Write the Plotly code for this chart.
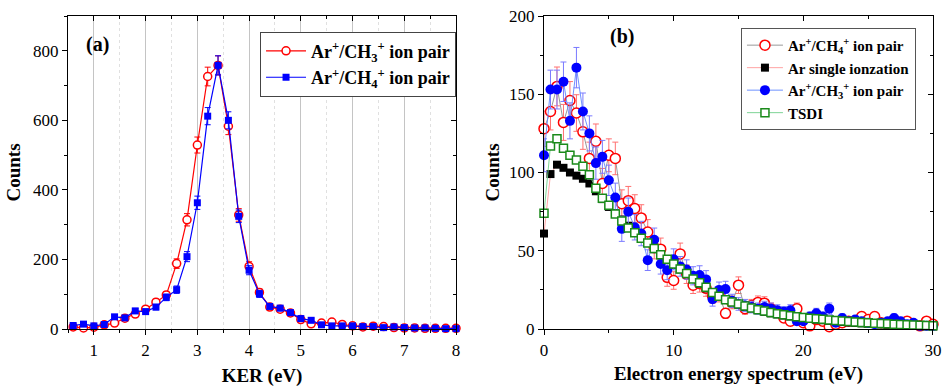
import plotly.graph_objects as go

# ---------------- Panel (a) data ----------------
ker = [0.6, 0.8, 1.0, 1.2, 1.4, 1.6, 1.8, 2.0, 2.2, 2.4, 2.6, 2.8, 3.0, 3.2, 3.4, 3.6, 3.8, 4.0, 4.2,
       4.4, 4.6, 4.8, 5.0, 5.2, 5.4, 5.6, 5.8, 6.0, 6.2, 6.4, 6.6, 6.8, 7.0, 7.2, 7.4, 7.6, 7.8, 8.0]
ch3_counts = [6, 3, 5, 12, 17, 31, 43, 57, 77, 98, 188, 314, 529, 726, 758, 583, 328, 180, 105,
              63, 57, 46, 27, 15, 17, 20, 13, 9, 6, 8, 7, 4, 3, 3, 2, 2, 2, 2]
ch3_err = [2.4, 1.7, 2.2, 3.5, 4.1, 5.6, 6.6, 7.5, 8.8, 9.9, 13.7, 17.7, 23.0, 26.9, 27.5, 24.1, 18.1, 13.4, 10.2,
           7.9, 7.5, 6.8, 5.2, 3.9, 4.1, 4.5, 3.6, 3.0, 2.4, 2.8, 2.6, 2.0, 1.7, 1.7, 1.4, 1.4, 1.4, 1.4]
ch4_counts = [10, 14, 9, 13, 35, 32, 52, 50, 63, 91, 113, 208, 363, 612, 758, 600, 324, 169, 101,
              65, 60, 47, 30, 25, 12, 9, 9, 9, 7, 7, 4, 6, 4, 3, 3, 2, 1, 1]
ch4_err = [3.2, 3.7, 3.0, 3.6, 5.9, 5.7, 7.2, 7.1, 7.9, 9.5, 10.6, 14.4, 19.1, 24.7, 27.5, 24.5, 18.0, 13.0, 10.0,
           8.1, 7.7, 6.9, 5.5, 5.0, 3.5, 3.0, 3.0, 3.0, 2.6, 2.6, 2.0, 2.4, 2.0, 1.7, 1.7, 1.4, 1.0, 1.0]

# ---------------- Panel (b) data ----------------
energy = [i * 0.5 for i in range(61)]
pair_ch4 = [128, 139, 155, 132, 146, 138, 126, 109, 120, 93,
            111, 109, 80, 82, 77, 71, 62, 52, 51, 33,
            31, 48, 35, 28, 29, 26, 21, 22, 10, 17,
            28, 13, 15, 17, 16.5, 13, 11, 7, 5, 13,
            4, 2, 6, 5, 1.5, 3, 4, 5, 5, 8,
            6, 8, 4, 3, 6, 4, 5, 3, 2, 5,
            3]
pair_ch4_err = [11.3, 11.8, 12.4, 11.5, 12.1, 11.7, 11.2, 10.4, 11.0, 9.6,
                10.5, 10.4, 8.9, 9.1, 8.8, 8.4, 7.9, 7.2, 7.1, 5.7,
                5.6, 6.9, 5.9, 5.3, 5.4, 5.1, 4.6, 4.7, 3.2, 4.1,
                5.3, 3.6, 3.9, 4.1, 4.1, 3.6, 3.3, 2.6, 2.2, 3.6,
                2.0, 1.4, 2.4, 2.2, 1.2, 1.7, 2.0, 2.2, 2.2, 2.8,
                2.4, 2.8, 2.0, 1.7, 2.4, 2.0, 2.2, 1.7, 1.4, 2.2,
                1.7]
single_ion = [61, 99, 105, 103, 100, 98, 96, 93, 88, 83,
              78, 74, 70, 66, 62, 58, 55, 51, 47, 44,
              41, 38, 35, 32, 29, 26, 23, 21, 18.5, 17,
              15.5, 14, 13, 12, 11, 10, 9.3, 8.6, 8, 7.4,
              6.9, 6.4, 6, 5.6, 5.2, 4.8, 4.5, 4.2, 3.9, 3.6,
              3.4, 3.1, 2.9, 2.7, 2.5, 2.3, 2.1, 2, 1.8, 1.7,
              1.6]
pair_ch3 = [111, 153, 153, 158, 133, 167, 139, 125, 106, 110,
            95, 84, 64, 75, 65, 61, 44, 57, 41.5, 37.6,
            44.5, 40, 38, 34, 34.5, 31.7, 19, 25, 25.5, 18,
            16, 15, 14, 13, 14, 13, 12, 11, 12, 5,
            5, 8, 10, 8, 13, 4, 7, 5, 6, 5,
            4, 3, 4, 5, 7, 5, 3, 4, 2, 2,
            2]
pair_ch3_err = [10.5, 12.4, 12.4, 12.6, 11.5, 12.9, 11.8, 11.2, 10.3, 10.5,
                9.7, 9.2, 8.0, 8.7, 8.1, 7.8, 6.6, 7.5, 6.4, 6.1,
                6.7, 6.3, 6.2, 5.8, 5.9, 5.6, 4.4, 5.0, 5.0, 4.2,
                4.0, 3.9, 3.7, 3.6, 3.7, 3.6, 3.5, 3.3, 3.5, 2.2,
                2.2, 2.8, 3.2, 2.8, 3.6, 2.0, 2.6, 2.2, 2.4, 2.2,
                2.0, 1.7, 2.0, 2.2, 2.6, 2.2, 1.7, 2.0, 1.4, 1.4,
                1.4]
tsdi = [74, 117, 121.5, 115.5, 111, 108, 104, 98.5, 90, 83.5,
        79, 73.5, 69, 64.5, 61.5, 58, 55, 51.5, 47.5, 44.5,
        41.5, 38.3, 35.5, 32, 29.6, 26.6, 23.4, 21, 18.7, 17.2,
        16, 14.7, 13.4, 12.3, 11.5, 10.6, 9.8, 9.1, 8.5, 7.9,
        7.4, 6.9, 6.5, 6.2, 5.8, 5.4, 5.1, 4.8, 4.5, 4.2,
        4, 3.7, 3.5, 3.3, 3.1, 2.9, 2.7, 2.5, 2.4, 2.2,
        2.1]

FONT = "Times New Roman, Liberation Serif, DejaVu Serif, serif"
CH3 = "Ar<sup>+</sup>/CH<sub>3</sub><sup>+</sup> ion pair"
CH4 = "Ar<sup>+</sup>/CH<sub>4</sub><sup>+</sup> ion pair"

fig = go.Figure()

# Panel (a)
fig.add_trace(go.Scatter(
    x=ker, y=ch3_counts, name="<b>" + CH3 + "</b>", mode="lines+markers",
    line=dict(color="#ff0000", width=1.2),
    marker=dict(symbol="circle", size=8, color="white", line=dict(color="#ff0000", width=1.5)),
    error_y=dict(type="data", array=ch3_err, color="#ff0000", thickness=1, width=3),
    xaxis="x", yaxis="y", legend="legend", cliponaxis=False))
fig.add_trace(go.Scatter(
    x=ker, y=ch4_counts, name="<b>" + CH4 + "</b>", mode="lines+markers",
    line=dict(color="#0000ff", width=1.2),
    marker=dict(symbol="square", size=7, color="#0000ff"),
    error_y=dict(type="data", array=ch4_err, color="#0000ff", thickness=1, width=3),
    xaxis="x", yaxis="y", legend="legend", cliponaxis=False))

# Panel (b)
fig.add_trace(go.Scatter(
    x=energy, y=pair_ch4, name="<b>" + CH4 + "</b>", mode="lines+markers",
    line=dict(color="#8c8c8c", width=0.9),
    marker=dict(symbol="circle", size=10, color="white", line=dict(color="#ff0000", width=1.5)),
    error_y=dict(type="data", array=pair_ch4_err, color="#ff7070", thickness=1, width=3),
    xaxis="x2", yaxis="y2", legend="legend2", cliponaxis=False))
fig.add_trace(go.Scatter(
    x=energy, y=single_ion, name="<b>Ar single ionzation</b>", mode="lines+markers",
    line=dict(color="#ff9a9a", width=0.9),
    marker=dict(symbol="square", size=8, color="#000000"),
    xaxis="x2", yaxis="y2", legend="legend2", cliponaxis=False))
fig.add_trace(go.Scatter(
    x=energy, y=pair_ch3, name="<b>" + CH3 + "</b>", mode="lines+markers",
    line=dict(color="#5f86ff", width=0.9),
    marker=dict(symbol="circle", size=10, color="#0000ff"),
    error_y=dict(type="data", array=pair_ch3_err, color="#7a7aff", thickness=1, width=3),
    xaxis="x2", yaxis="y2", legend="legend2", cliponaxis=False))
fig.add_trace(go.Scatter(
    x=energy, y=tsdi, name="<b>TSDI</b>", mode="lines+markers",
    line=dict(color="#6fcf8a", width=0.9),
    marker=dict(symbol="square", size=8, color="white", line=dict(color="#1a8a1a", width=1.5)),
    xaxis="x2", yaxis="y2", legend="legend2", cliponaxis=False))

tickfont = dict(family=FONT, size=17, color="black")
titlefont = dict(family=FONT, size=19, color="black")
dom_a = [0.0, 0.4486]
dom_b = [0.5503, 1.0]

common_axis = dict(showline=True, linecolor="black", linewidth=1.3, mirror=True,
                   ticks="outside", ticklen=5, tickwidth=1, tickcolor="black",
                   tickfont=tickfont, zeroline=False, automargin=False)


def inner_axis(over, anchor, side, rng, dtick, mdtick):
    # inward-pointing ticks on the mirrored (top / right) frame sides
    return dict(overlaying=over, anchor=anchor, side=side, range=rng, dtick=dtick, tick0=0,
                ticks="inside", ticklen=5, tickwidth=1, tickcolor="black",
                showticklabels=False, showline=False, showgrid=False, zeroline=False,
                minor=dict(dtick=mdtick, tick0=0, ticks="inside", ticklen=3, tickcolor="black"),
                automargin=False, fixedrange=True)


fig.update_layout(
    width=943, height=387,
    margin=dict(l=68, r=10, t=16, b=58),
    paper_bgcolor="white", plot_bgcolor="white",
    font=dict(family=FONT, color="black"),
    showlegend=True,
    xaxis=dict(domain=dom_a, anchor="y", range=[0.5, 8.0], dtick=1, tick0=0,
               showgrid=True, gridcolor="#c4c4c4", gridwidth=1,
               minor=dict(dtick=0.5, tick0=0, ticks="outside", ticklen=3, tickcolor="black",
                          showgrid=True, gridcolor="#e0e0e0", griddash="dot", gridwidth=1),
               title=dict(text="<b>KER (eV)</b>", font=titlefont, standoff=10),
               **common_axis),
    yaxis=dict(domain=[0, 1], anchor="x", range=[0, 900], dtick=200, tick0=0, showgrid=False,
               minor=dict(dtick=100, tick0=0, ticks="outside", ticklen=3, tickcolor="black"),
               title=dict(text="<b>Counts</b>", font=titlefont, standoff=7),
               **common_axis),
    xaxis2=dict(domain=dom_b, anchor="y2", range=[0, 30], dtick=10, tick0=0, showgrid=False,
                minor=dict(dtick=5, tick0=0, ticks="outside", ticklen=3, tickcolor="black"),
                title=dict(text="<b>Electron energy spectrum (eV)</b>", font=titlefont, standoff=8),
                **common_axis),
    yaxis2=dict(domain=[0, 1], anchor="x2", range=[0, 200], dtick=50, tick0=0, showgrid=False,
                minor=dict(dtick=25, tick0=0, ticks="outside", ticklen=3, tickcolor="black"),
                title=dict(text="<b>Counts</b>", font=titlefont, standoff=4),
                **common_axis),
    xaxis3=inner_axis("x", "y", "top", [0.5, 8.0], 1, 0.5),
    yaxis3=inner_axis("y", "x", "right", [0, 900], 200, 100),
    xaxis4=inner_axis("x2", "y2", "top", [0, 30], 10, 5),
    yaxis4=inner_axis("y2", "x2", "right", [0, 200], 50, 25),
    legend=dict(x=0.4486, xanchor="right", y=0.95, yanchor="top",
                bgcolor="white", bordercolor="#444444", borderwidth=1,
                font=dict(family=FONT, size=18, color="black"), itemwidth=40,
                tracegroupgap=0),
    legend2=dict(x=0.9803, xanchor="right", y=0.962, yanchor="top",
                 bgcolor="white", bordercolor="#555555", borderwidth=1,
                 font=dict(family=FONT, size=15, color="black"), itemwidth=36,
                 tracegroupgap=0),
    annotations=[
        dict(text="<b>(a)</b>", xref="x", yref="y", x=1.07, y=818, showarrow=False,
             font=dict(family=FONT, size=20, color="black")),
        dict(text="<b>(b)</b>", xref="x2", yref="y2", x=6.0, y=187, showarrow=False,
             font=dict(family=FONT, size=20, color="black")),
    ],
)

# invisible anchor traces so the inner tick axes get drawn
for xa, ya in (("x3", "y"), ("x", "y3"), ("x4", "y2"), ("x2", "y4")):
    fig.add_trace(go.Scatter(x=[None], y=[None], xaxis=xa, yaxis=ya, showlegend=False,
                             hoverinfo="skip", mode="markers"))

fig.write_html("out.html", config={"displayModeBar": False},
               post_script="document.body.style.margin='0';")
